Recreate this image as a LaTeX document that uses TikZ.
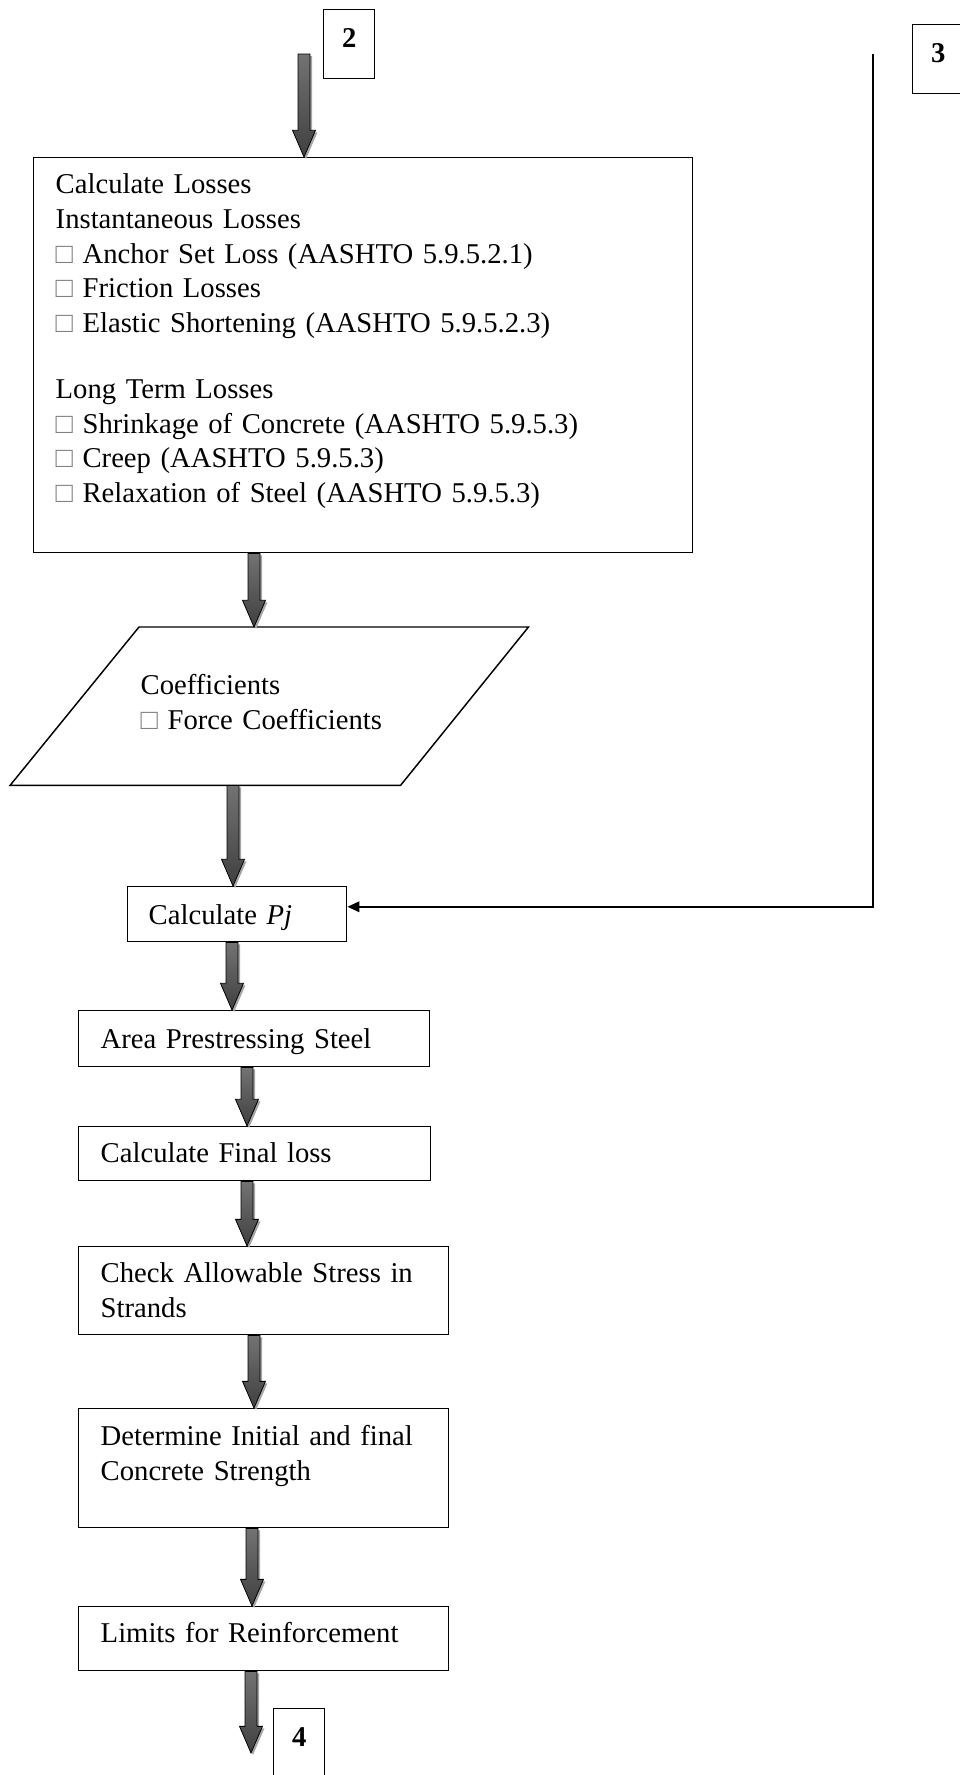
\documentclass[tikz,border=0pt]{standalone}
\usepackage{fontspec}
\setmainfont{Liberation Serif}
\usetikzlibrary{calc,arrows.meta}

\newcommand{\sq}{{\color{black!50}□}}
% fat shaded arrow: #1 = x, #2 = from, #3 = to
\newcommand{\flowarrow}[3]{%
  \path [fill=black!35] let \p1 = (#1,0), \p2 = (#2), \p3 = (#3) in
    (\x1-3pt,\y2-1.5pt) -- (\x1-3pt,\y3+18.5pt) -- (\x1-7.1pt,\y3+18.5pt) -- (\x1+1.5pt,\y3-1.5pt)
    -- (\x1+10.1pt,\y3+18.5pt) -- (\x1+6pt,\y3+18.5pt) -- (\x1+6pt,\y2-1.5pt) -- cycle;
  \path [draw=black,line width=0.6pt,top color=black!55,middle color=black,bottom color=black!75]
    let \p1 = (#1,0), \p2 = (#2), \p3 = (#3) in
    (\x1-4.5pt,\y2) -- (\x1-4.5pt,\y3+20pt) -- (\x1-8.6pt,\y3+20pt) -- (\x1,\y3)
    -- (\x1+8.6pt,\y3+20pt) -- (\x1+4.5pt,\y3+20pt) -- (\x1+4.5pt,\y2) -- cycle;
}

\begin{document}
\begin{tikzpicture}[x=0.75pt,y=-0.75pt,font=\fontsize{21.5}{26}\selectfont,
  stepbox/.style={draw,line width=1.1pt,anchor=north west,inner ysep=0pt,inner xsep=16.5pt,align=left},
  numbox/.style={draw,line width=1.1pt,anchor=north west,inner sep=0pt,text width=38.25pt,align=center,
    text height=28.5pt,text depth=23.25pt,font=\fontsize{21.5}{26}\selectfont\bfseries},
  fbline/.style={line width=1.2pt,-{Triangle[length=9pt,width=8pt]}}]
\useasboundingbox (0,0) rectangle (960,1775);

\node [numbox] (box2) at (323,9) {2};
\node [numbox] (box3) at (912,24) {3};
\coordinate (in2) at (304,54);
\coordinate (fb3) at (873,54);

\node [stepbox,text width=461.25pt,text height=27pt,text depth=269.25pt] (losses) at (33,157)
  {Calculate Losses\\
   Instantaneous Losses\\
   \sq{} Anchor Set Loss (AASHTO 5.9.5.2.1)\\
   \sq{} Friction Losses\\
   \sq{} Elastic Shortening (AASHTO 5.9.5.2.3)\\[23.5pt]
   Long Term Losses\\
   \sq{} Shrinkage of Concrete (AASHTO 5.9.5.3)\\
   \sq{} Creep (AASHTO 5.9.5.3)\\
   \sq{} Relaxation of Steel (AASHTO 5.9.5.3)};

\node [stepbox,draw=none,inner xsep=0pt,text width=225pt,text height=50.25pt,text depth=67.5pt] (coef) at (140,627)
  {Coefficients\\ \sq{} Force Coefficients};
\draw [line width=1.1pt] ($(coef.north west)+(-1,0)$) -- ($(coef.north east)+(87,0)$)
  -- ($(coef.south east)+(-41,0)$) -- ($(coef.south west)+(-130,0)$) -- cycle;

\node [stepbox,inner xsep=15.75pt,text width=132.75pt,text height=28.5pt,text depth=12.75pt] (calcpj) at (127,886)
  {Calculate \textit{Pj}};
\node [stepbox,text width=230.25pt,text height=28.5pt,text depth=13.5pt] (area) at (78,1010)
  {Area Prestressing Steel};
\node [stepbox,text width=231pt,text height=27pt,text depth=13.5pt] (final) at (78,1126)
  {Calculate Final loss};
\node [stepbox,text width=244.5pt,text height=27pt,text depth=39pt] (check) at (78,1246)
  {Check Allowable Stress in\\ Strands};
\node [stepbox,text width=244.5pt,text height=27.75pt,text depth=61.5pt] (determine) at (78,1408)
  {Determine Initial and final\\ Concrete Strength};
\node [stepbox,text width=244.5pt,text height=27pt,text depth=21pt] (limits) at (78,1606)
  {Limits for Reinforcement};
\node [numbox] (box4) at (273,1708) {4};
\coordinate (out4) at (251,1753);

\flowarrow{304}{in2}{losses.north}
\flowarrow{254}{losses.south}{coef.north}
\flowarrow{233}{coef.south}{calcpj.north}
\flowarrow{232}{calcpj.south}{area.north}
\flowarrow{247}{area.south}{final.north}
\flowarrow{247}{final.south}{check.north}
\flowarrow{254}{check.south}{determine.north}
\flowarrow{252}{determine.south}{limits.north}
\flowarrow{251}{limits.south}{out4}

\draw [fbline] (fb3) |- ([yshift=5.6pt]calcpj.east);
\end{tikzpicture}
\end{document}
